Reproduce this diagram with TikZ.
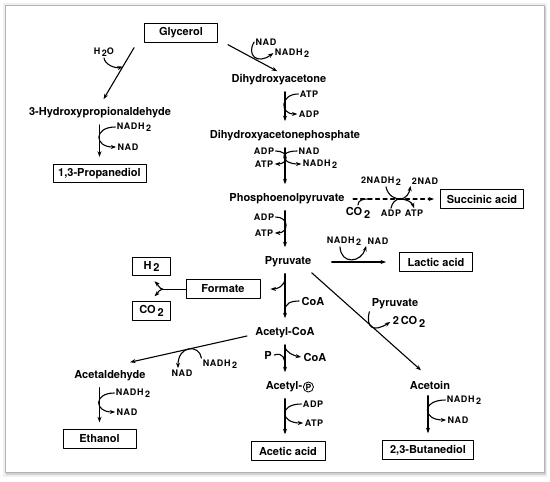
\documentclass[tikz,border=0pt]{standalone}
\usepackage{fontspec}
\setmainfont{TeX Gyre Heros}
\newfontfamily\cofont[LetterSpace=6]{TeX Gyre Heros}
\usetikzlibrary{arrows.meta,positioning,calc}
\newcommand{\subtwo}{\,\raisebox{-0.45ex}{2}}
\begin{document}
\begin{tikzpicture}[x=1pt,y=-1pt,line width=1.1pt,line join=round,line cap=round,>={Stealth[length=5.5pt,width=4pt]},
	met/.style={font=\bfseries\fontsize{11}{13}\selectfont,inner sep=2pt},
	prod/.style={met,draw,line width=0.9pt,minimum height=18.5pt,inner xsep=3pt},
	cof/.style={font=\cofont\bfseries\fontsize{9}{10}\selectfont,inner sep=1pt},
	conv/.style={->,shorten <=4pt,shorten >=7pt}]
	\useasboundingbox (0,0) rectangle (550,482);
	\fill[white] (0,0) rectangle (550,482);
	\fill[black!6] (3,3) rectangle (547,477);
	\fill[black!18] (6,7) rectangle (546,475);
	\draw[black!30,fill=white,line width=0.7pt] (5,5) rectangle (544,472);
	\foreach \n/\x/\y/\t in {hpa/100/113/3-Hydroxypropionaldehyde, dha/279/80/Dihydroxyacetone, dhap/285/136/Dihydroxyacetonephosphate, pep/287/199/Phosphoenolpyruvate, pyr/288/262/Pyruvate, accoa/285/333/Acetyl-CoA, acald/110/376/Acetaldehyde, acpt/284/387/Acetyl-, acetoin/430/385/Acetoin, pyr2/395/304/Pyruvate, coa1/313/301/CoA, coa2/315/357/CoA, p1/268/355/P, co2s/358/213/CO\subtwo, co2c/409/322/2\,CO\subtwo}
		\node[met] (\n) at (\x,\y) {\t};
	\node[draw,circle,inner sep=0.6pt,line width=0.8pt,font=\bfseries\fontsize{8.5}{9}\selectfont,right=-1.8pt of acpt] (acpc) {P};
	\foreach \n/\x/\y/\w/\t in {gly/181/33/73/Glycerol, prop/99.5/173.5/93/{1,3-Propanediol}, succ/482/199/83/Succinic acid, lact/436/262/73/Lactic acid, form/223/289/74/Formate, h2/151.5/266.5/38/H\subtwo, co2b/151.5/311/38/CO\subtwo, eth/99.5/439/73/Ethanol, acet/288/451/74/Acetic acid, btd/428/450/91/{2,3-Butanediol}}
		\node[prod,minimum width=\w pt] (\n) at (\x,\y) {\t};
	\foreach \n/\x/\y/\t in {h2o/104/52/H\subtwo{}O, nad1/266/42/NAD, nadh1/292/53/NADH\subtwo, atp1/309/94/ATP, adp1/309/114/ADP, nadh2/134/127/NADH\subtwo, nad2/128/147/NAD, adp2/264/151/ADP, atp2/264/164/ATP, nad3/309/151/NAD, nadh3/320/164/NADH\subtwo, adp3/264/217/ADP, atp3/264/233/ATP, nadh4/381/181/2NADH\subtwo, nad4/425/181/2NAD, adp4/391/213/ADP, atp4/414/213/ATP, nadh5/344/241/NADH\subtwo, nad5/378/241/NAD, nadh6/220/364/NADH\subtwo, nad6/182/373/NAD, nadh7/133/393/NADH\subtwo, nad7/127/412/NAD, adp5/313/404/ADP, atp5/314/423/ATP, nadh8/464/400/NADH\subtwo, nad8/458/420/NAD}
		\node[cof] (\n) at (\x,\y) {\t};
	\path (285,0) coordinate (sp)
		([shift={(-10,5)}]gly.south west) coordinate (gs)
		([shift={(10,2)}]gly.south east) coordinate (gd)
		($(pep.east)+(53,0)$) coordinate (sj)
		($(gs)!0.33!(hpa.north)$) coordinate (wat);
	\draw[->,shorten >=7pt] (gs) -- (hpa.north);
	\draw[->,shorten >=2pt] (gd) -- (dha.north);
	\draw[conv] (hpa.south -| prop) -- (prop.north);
	\draw[conv] (dha.south -| sp) -- (dhap.north -| sp);
	\draw[conv] (dhap.south -| sp) -- (pep.north -| sp);
	\draw[conv] (pep.south -| sp) -- (pyr.north -| sp);
	\draw[conv] (pyr.south -| sp) -- (accoa.north -| sp);
	\draw[conv] (accoa.south -| sp) -- (acpt.north -| sp);
	\draw[conv] (acpt.south -| sp) -- (acet.north -| sp);
	\draw[conv] (acald.south -| eth) -- (eth.north);
	\draw[conv] (acetoin.south -| btd) -- (btd.north);
	\draw[->,dash pattern=on 4pt off 3.5pt,shorten <=6pt,shorten >=6pt] (pep.east) -- (succ.west);
	\draw[->,shorten <=18pt,shorten >=13pt] (pyr.east) -- (lact.west);
	\draw[->,shorten >=12pt] ([shift={(-2,3)}]pyr.south east) -- (acetoin.north);
	\draw[->] ([shift={(-6,3)}]accoa.west) -- ([shift={(20,-6)}]acald.north);
	\draw[line width=0.9pt] (form.west) -- ++(-23,0) coordinate (fork);
	\draw[->] (fork) .. controls +(-3,0) and +(4,4) .. ([shift={(3,5)}]h2.south);
	\draw[->] (fork) .. controls +(-3,0) and +(4,-4) .. ([shift={(3,-5)}]co2b.north);
	\draw[->] (h2o.south) .. controls +(1,7) and +(-7,2) .. (wat);
	\draw[->] (nad1.west) .. controls +(-8,13) and +(-16,12) .. (nadh1.west);
	\draw[->] (nadh2.west) .. controls +(-22,0) and +(-22,0) .. (nad2.west);
	\draw[->] (atp1.west) .. controls +(-18,0) and +(-18,0) .. (adp1.west);
	\draw[->] (adp2.east) .. controls +(14,0) and +(14,0) .. (atp2.east);
	\draw[->] (nad3.west) .. controls +(-20,0) and +(-20,0) .. (nadh3.west);
	\draw[->] (adp3.east) .. controls +(14,0) and +(14,0) .. (atp3.east);
	\draw[->] (adp5.west) .. controls +(-23,0) and +(-23,0) .. (atp5.west);
	\draw[->] (nadh7.west) .. controls +(-21,0) and +(-21,0) .. (nad7.west);
	\draw[->] (nadh8.west) .. controls +(-24,0) and +(-24,0) .. (nad8.west);
	\draw[->] ([xshift=-4pt]nadh5.south) .. controls +(1,18) and +(-5,17) .. (nad5.south west);
	\draw[->] (nadh6.north west) .. controls +(-2,-14) and +(0,-23) .. ([xshift=-4pt]nad6.north);
	\draw[->] (pyr2.south west) .. controls +(-4,17) and +(-16,10) .. (co2c.west);
	\draw (coa1.west) .. controls +(-9,0) and +(0,-7) .. ($(pyr.south -| sp)+(0,41)$);
	\draw[->] ($(pyr.south -| sp)+(0,8)$) .. controls +(0,9) and +(6,0) .. ([xshift=10pt]form.east);
	\draw (p1.east) .. controls +(9,-3) and +(0,-7) .. ($(accoa.south -| sp)+(0,25)$);
	\draw[->] ($(accoa.south -| sp)+(0,5)$) .. controls +(0,7) and +(-6,-1) .. (coa2.west);
	\draw (co2s.north) .. controls +(0,-5) and +(-5,0) .. ($(co2s.north |- pep)+(10,0)$);
	\draw ([xshift=5pt]nadh4.south) .. controls +(2,9) and +(-5,0) .. (sj) .. controls +(-5,0) and +(1,-5) .. (adp4.north);
	\draw[->] (sj) .. controls +(6,0) and +(-1,7) .. (nad4.south west);
	\draw[->] (sj) .. controls +(6,0) and +(-2,-6) .. (atp4.north);
\end{tikzpicture}
\end{document}
